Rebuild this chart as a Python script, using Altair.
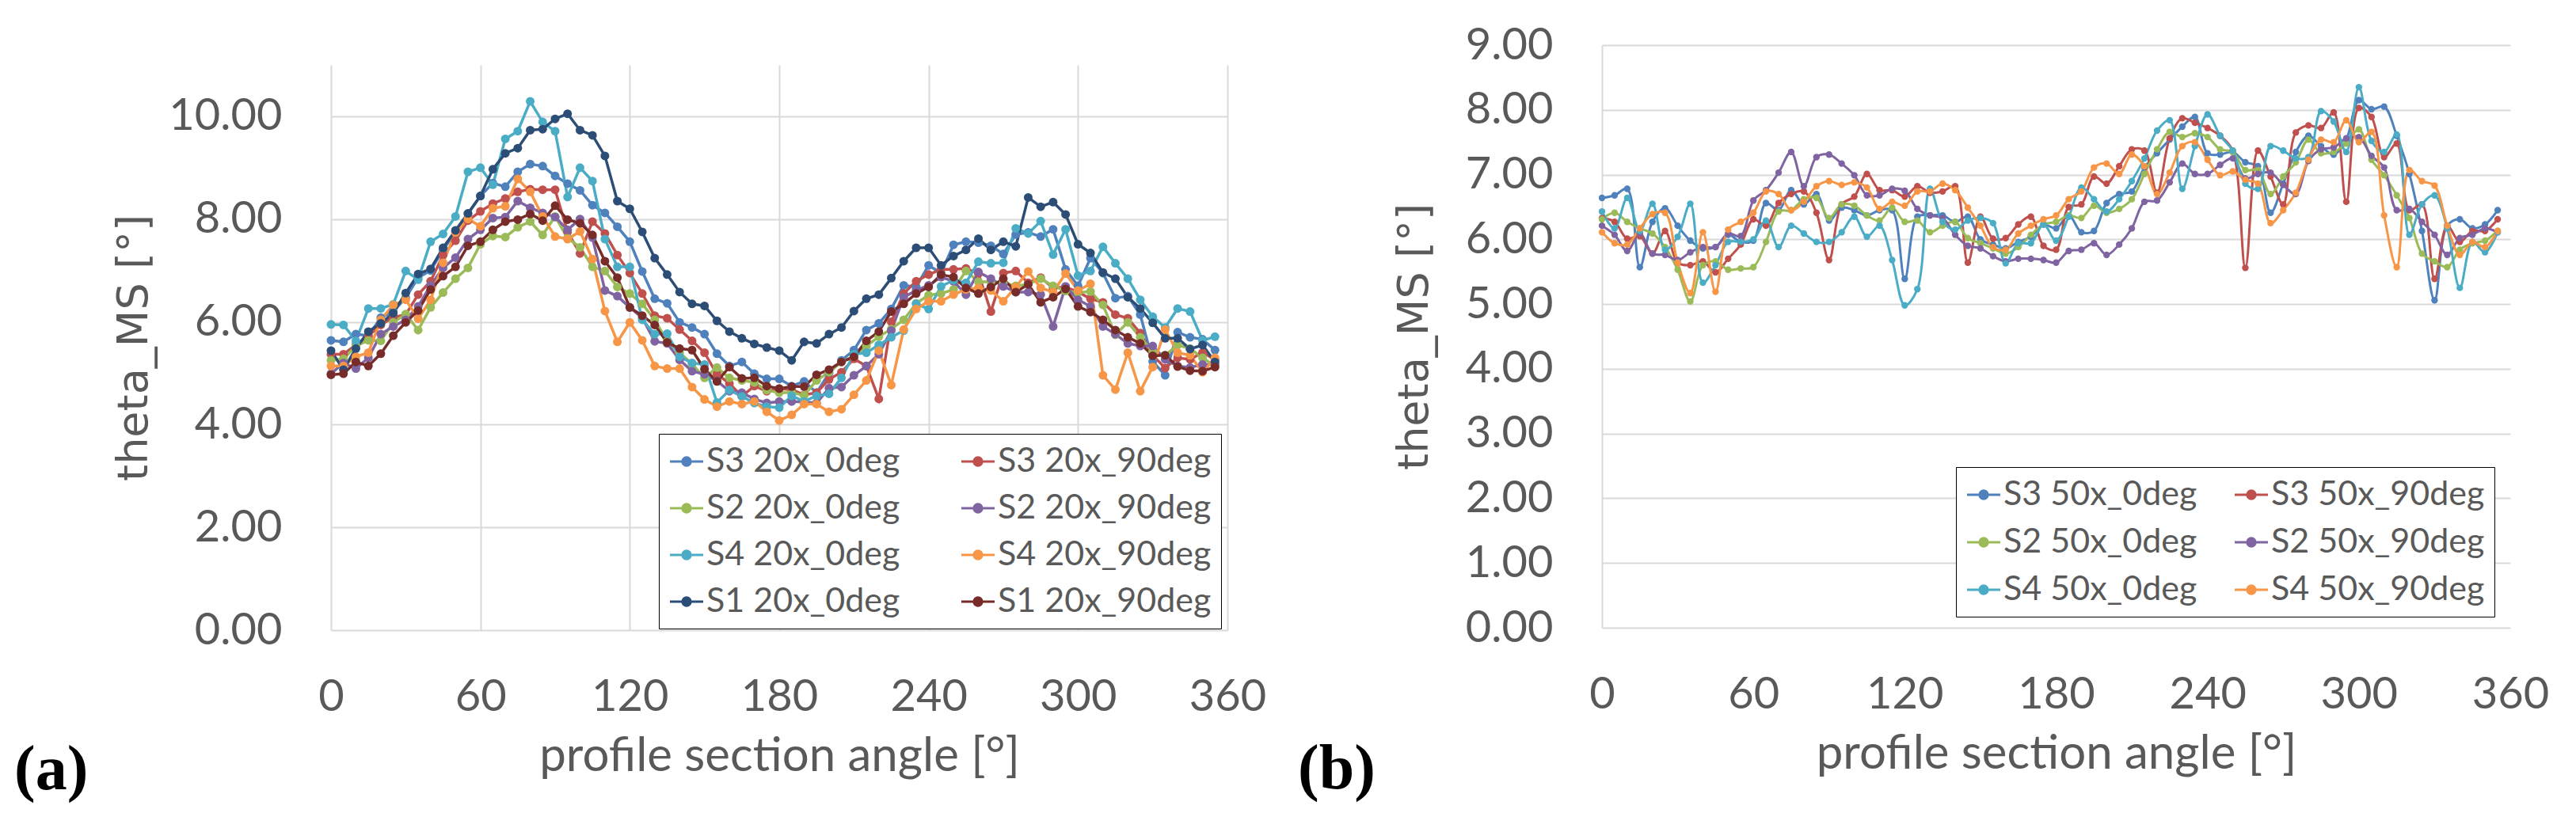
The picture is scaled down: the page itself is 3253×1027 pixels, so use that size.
import altair as alt
import pandas as pd

angles = list(range(0, 360, 5))

# ---------------- panel (a) : 20x ----------------
a_names = ["S3 20x_0deg", "S3 20x_90deg", "S2 20x_0deg", "S2 20x_90deg",
           "S4 20x_0deg", "S4 20x_90deg", "S1 20x_0deg", "S1 20x_90deg"]
a_colors = ["#4F81BD", "#C0504D", "#9BBB59", "#8064A2",
            "#4BACC6", "#F79646", "#2C4D75", "#772C2A"]

a_s3_0 = [5.64, 5.61, 5.76, 5.73, 6.08, 6.20, 6.47, 6.86, 7.00, 7.40, 7.75, 8.10,
          8.45, 8.70, 8.63, 8.92, 9.07, 9.03, 8.84, 8.69, 8.56, 8.27, 8.12, 7.85,
          7.56, 6.98, 6.45, 6.36, 5.99, 5.89, 5.76, 5.38, 5.14, 5.22, 4.99, 4.89,
          4.89, 4.75, 4.84, 4.62, 5.00, 5.25, 5.45, 5.84, 5.97, 6.25, 6.71, 6.68,
          7.10, 6.95, 7.50, 7.56, 7.54, 7.48, 7.32, 7.70, 7.74, 7.66, 7.80, 7.02,
          6.70, 7.24, 6.95, 6.46, 6.50, 6.14, 5.23, 4.96, 5.80, 5.70, 5.66, 5.45]
a_s3_90 = [5.37, 5.37, 5.55, 5.73, 5.94, 6.09, 6.14, 6.53, 6.79, 7.30, 7.58, 7.97,
           8.15, 8.30, 8.40, 8.53, 8.58, 8.57, 8.57, 7.75, 7.33, 7.95, 7.72, 7.30,
           6.95, 6.55, 6.12, 6.07, 5.85, 5.63, 5.40, 4.98, 4.80, 4.55, 4.75, 4.65,
           4.70, 4.68, 4.58, 4.62, 4.88, 5.02, 5.28, 5.14, 4.50, 6.00, 6.55, 6.79,
           6.92, 7.02, 7.02, 7.04, 6.94, 6.20, 6.95, 6.99, 6.76, 6.86, 6.66, 6.68,
           6.58, 6.45, 6.38, 6.14, 6.07, 5.78, 5.35, 5.10, 5.30, 5.27, 5.40, 5.27]
a_s2_0 = [5.25, 5.28, 5.53, 5.64, 5.63, 5.99, 6.15, 5.84, 6.28, 6.57, 6.84, 7.05,
          7.51, 7.67, 7.65, 7.84, 7.95, 7.69, 8.05, 7.63, 7.45, 7.07, 6.99, 6.68,
          6.55, 6.35, 6.04, 5.62, 5.40, 5.18, 4.91, 5.11, 4.91, 4.86, 4.82, 4.67,
          4.62, 4.62, 4.57, 4.86, 5.02, 5.22, 5.32, 5.53, 5.71, 5.86, 6.04, 6.36,
          6.52, 6.55, 6.63, 6.99, 6.78, 6.78, 6.76, 6.70, 6.73, 6.84, 6.70, 6.60,
          6.57, 6.59, 6.33, 5.75, 5.99, 5.70, 5.42, 5.35, 5.55, 5.48, 5.30, 5.14]
a_s2_90 = [4.99, 5.20, 5.09, 5.30, 5.76, 5.91, 6.04, 6.30, 6.71, 7.05, 7.25, 7.61,
           7.79, 8.02, 8.04, 8.35, 8.22, 8.12, 8.04, 7.79, 8.00, 7.64, 6.61, 6.50,
           6.28, 6.08, 5.62, 5.58, 5.26, 5.04, 4.98, 4.85, 4.65, 4.62, 4.50, 4.42,
           4.45, 4.45, 4.44, 4.42, 4.71, 4.73, 4.96, 5.14, 5.37, 5.83, 6.48, 6.61,
           6.71, 6.87, 6.79, 6.53, 6.97, 6.84, 6.69, 6.58, 6.58, 6.53, 5.91, 6.69,
           6.43, 6.30, 5.91, 5.76, 5.58, 5.53, 5.53, 5.27, 5.14, 5.11, 5.17, 5.17]
a_s4_0 = [5.95, 5.94, 5.63, 6.26, 6.26, 6.34, 6.99, 6.82, 7.56, 7.71, 8.05, 8.92,
          9.00, 8.67, 9.56, 9.71, 10.29, 9.89, 9.71, 8.43, 9.00, 8.74, 7.61, 7.07,
          7.07, 6.04, 5.76, 5.77, 5.32, 5.20, 5.17, 4.43, 4.67, 4.55, 4.42, 4.35,
          4.33, 4.56, 4.45, 4.56, 4.60, 4.91, 5.37, 5.40, 5.55, 5.70, 5.83, 6.35,
          6.25, 6.69, 6.81, 6.76, 7.17, 7.14, 7.15, 7.82, 7.72, 7.96, 7.31, 7.80,
          6.90, 6.99, 7.46, 7.14, 6.84, 6.43, 6.10, 5.89, 6.26, 6.20, 5.64, 5.71]
a_s4_90 = [5.14, 5.14, 5.32, 5.40, 6.04, 6.33, 6.43, 6.06, 6.43, 7.15, 7.74, 8.00,
           7.86, 8.21, 8.25, 8.78, 8.53, 8.05, 7.66, 7.61, 7.76, 7.22, 6.21, 5.61,
           5.99, 5.64, 5.14, 5.09, 5.09, 4.73, 4.49, 4.35, 4.45, 4.40, 4.45, 4.25,
           4.08, 4.19, 4.40, 4.40, 4.25, 4.30, 4.58, 4.86, 5.44, 4.77, 5.85, 6.25,
           6.40, 6.40, 6.53, 6.63, 6.66, 6.61, 6.40, 6.68, 6.98, 6.66, 6.58, 6.94,
           6.61, 6.74, 4.96, 4.68, 5.40, 4.65, 5.12, 5.85, 5.40, 5.35, 5.02, 5.30]
a_s1_0 = [5.44, 5.07, 5.48, 5.81, 5.97, 6.17, 6.56, 6.93, 7.03, 7.44, 7.78, 8.11,
          8.45, 8.97, 9.28, 9.38, 9.73, 9.75, 9.95, 10.05, 9.73, 9.63, 9.23, 8.35,
          8.20, 7.75, 7.24, 6.92, 6.58, 6.35, 6.31, 6.02, 5.81, 5.68, 5.57, 5.50,
          5.44, 5.25, 5.61, 5.58, 5.76, 5.89, 6.21, 6.45, 6.53, 6.85, 7.18, 7.44,
          7.44, 7.10, 7.28, 7.40, 7.62, 7.40, 7.56, 7.47, 8.42, 8.24, 8.33, 8.09,
          7.51, 7.34, 6.96, 6.84, 6.48, 6.26, 5.98, 5.68, 5.68, 5.47, 5.55, 5.22]
a_s1_90 = [4.97, 4.99, 5.22, 5.14, 5.38, 5.73, 5.99, 6.22, 6.63, 6.89, 7.07, 7.48,
           7.56, 7.79, 7.95, 7.99, 8.10, 7.97, 8.26, 7.99, 7.92, 7.69, 7.18, 6.86,
           6.28, 6.12, 5.94, 5.60, 5.48, 5.45, 5.08, 4.84, 5.12, 4.90, 4.91, 4.75,
           4.70, 4.74, 4.74, 4.97, 5.07, 5.22, 5.32, 5.63, 5.81, 6.20, 6.35, 6.55,
           6.68, 6.92, 6.87, 6.66, 6.55, 6.68, 6.84, 6.58, 6.73, 6.38, 6.48, 6.64,
           6.30, 6.19, 6.04, 5.84, 5.70, 5.58, 5.34, 5.35, 5.13, 5.05, 5.04, 5.12]

# ---------------- panel (b) : 50x ----------------
b_names = ["S3 50x_0deg", "S3 50x_90deg", "S2 50x_0deg", "S2 50x_90deg",
           "S4 50x_0deg", "S4 50x_90deg"]
b_colors = ["#4F81BD", "#C0504D", "#9BBB59", "#8064A2", "#4BACC6", "#F79646"]

b_s3_0 = [6.64, 6.68, 6.78, 5.57, 6.27, 6.48, 6.21, 5.98, 5.86, 5.88, 6.07, 5.96,
          5.98, 6.56, 6.45, 6.76, 6.54, 6.70, 6.29, 6.49, 6.45, 6.37, 6.45, 6.45,
          5.39, 6.35, 6.37, 6.37, 6.27, 6.35, 6.00, 5.92, 5.86, 5.96, 6.04, 6.23,
          6.17, 6.37, 6.11, 6.13, 6.56, 6.70, 6.74, 7.11, 7.33, 7.54, 7.74, 7.89,
          7.33, 7.31, 7.35, 7.19, 7.13, 6.41, 6.86, 7.35, 7.60, 7.44, 7.31, 7.54,
          8.15, 8.01, 8.05, 7.60, 7.01, 6.13, 5.06, 6.21, 6.31, 6.17, 6.23, 6.45]
b_s3_90 = [6.33, 6.27, 6.01, 6.05, 5.78, 6.13, 5.64, 5.60, 5.66, 5.49, 5.70, 5.92,
           6.31, 6.21, 6.56, 6.70, 6.74, 6.41, 5.68, 6.54, 6.66, 7.01, 6.76, 6.76,
           6.66, 6.82, 6.72, 6.74, 6.82, 5.64, 6.35, 6.01, 6.02, 6.23, 6.35, 5.90,
           5.84, 6.50, 6.54, 6.97, 6.86, 7.13, 7.39, 7.37, 6.72, 7.56, 7.87, 7.80,
           7.72, 7.60, 7.37, 5.56, 7.37, 6.97, 6.54, 7.65, 7.76, 7.72, 7.96, 6.58,
           8.03, 7.89, 7.27, 7.48, 6.45, 6.54, 5.39, 6.21, 5.96, 6.13, 6.13, 6.31]
b_s2_0 = [6.31, 6.41, 6.27, 6.17, 6.09, 5.88, 5.53, 5.04, 5.60, 5.66, 5.53, 5.55,
          5.57, 5.96, 6.43, 6.45, 6.62, 6.64, 6.33, 6.54, 6.52, 6.37, 6.29, 6.49,
          6.27, 6.29, 6.11, 6.21, 6.27, 6.02, 5.94, 5.86, 5.78, 5.88, 6.07, 6.23,
          6.27, 6.37, 6.33, 6.52, 6.41, 6.47, 6.62, 7.01, 7.39, 7.66, 7.58, 7.64,
          7.58, 7.39, 7.35, 7.07, 7.07, 6.70, 6.97, 7.19, 7.54, 7.33, 7.35, 7.48,
          7.70, 7.23, 6.99, 6.68, 6.33, 5.78, 5.66, 5.57, 5.84, 5.94, 5.98, 6.13]
b_s2_90 = [6.21, 6.07, 5.82, 6.09, 5.78, 5.76, 5.68, 5.80, 5.88, 5.88, 6.09, 6.05,
           6.60, 6.76, 7.03, 7.35, 6.82, 7.27, 7.31, 7.17, 6.99, 6.68, 6.68, 6.78,
           6.75, 6.47, 6.37, 6.33, 6.07, 5.90, 5.86, 5.74, 5.66, 5.70, 5.70, 5.68,
           5.64, 5.82, 5.84, 5.94, 5.76, 5.92, 6.17, 6.58, 6.60, 6.88, 7.17, 7.01,
           7.01, 7.15, 7.25, 6.94, 7.01, 7.03, 6.84, 6.70, 7.21, 7.39, 7.42, 7.56,
           7.58, 7.29, 7.11, 6.45, 6.47, 6.27, 6.07, 5.76, 6.02, 6.07, 6.17, 6.11]
b_s4_0 = [6.43, 6.17, 6.64, 6.13, 6.55, 5.84, 6.04, 6.55, 5.33, 5.60, 5.96, 5.96,
          6.00, 6.29, 5.88, 6.21, 6.09, 5.96, 5.96, 6.11, 6.35, 6.04, 6.21, 5.68,
          4.98, 5.23, 6.78, 6.27, 6.15, 6.29, 6.33, 6.25, 5.63, 5.94, 5.94, 6.23,
          5.98, 6.35, 6.80, 6.62, 6.43, 6.62, 6.90, 7.25, 7.68, 7.84, 6.78, 7.44,
          7.93, 7.60, 7.37, 6.86, 6.78, 7.44, 7.37, 7.25, 7.27, 7.98, 7.82, 7.35,
          8.35, 7.52, 7.35, 7.62, 6.07, 6.54, 6.68, 6.17, 5.25, 5.96, 5.80, 6.11]
b_s4_90 = [6.11, 5.94, 5.92, 6.17, 6.39, 6.41, 5.64, 5.17, 6.11, 5.19, 6.15, 6.27,
           6.41, 6.74, 6.70, 6.45, 6.58, 6.82, 6.90, 6.84, 6.88, 6.80, 6.47, 6.58,
           6.52, 6.74, 6.74, 6.86, 6.76, 6.49, 6.21, 5.88, 5.84, 6.09, 6.21, 6.31,
           6.37, 6.62, 6.74, 7.11, 7.17, 7.01, 7.31, 7.13, 6.70, 7.03, 7.44, 7.50,
           7.23, 6.99, 7.05, 6.92, 6.86, 6.25, 6.45, 6.72, 7.23, 7.54, 7.50, 7.84,
           7.50, 7.66, 6.37, 5.57, 7.07, 6.90, 6.83, 6.21, 5.76, 5.96, 5.88, 6.13]

a_ticks_x = [0, 60, 120, 180, 240, 300, 360]
a_ticks_y = [0, 2, 4, 6, 8, 10]
b_ticks_y = [0, 1, 2, 3, 4, 5, 6, 7, 8, 9]

GRAY = "#595959"
GRID = "#D9D9D9"
SYM = "M-1,0L1,0M-0.24,0A0.24,0.24,0,1,0,0.24,0A0.24,0.24,0,1,0,-0.24,0Z"


def long_df(names, series):
    rows = []
    for i, (n, vals) in enumerate(zip(names, series)):
        assert len(vals) == len(angles), (n, len(vals))
        for ang, v in zip(angles, vals):
            rows.append({"series": n, "k": i, "angle": ang, "theta": v})
    return pd.DataFrame(rows)


def legend_order(names, colors, ncol=2):
    # legend fills column by column; reorder so that it reads row by row
    idx = [r * ncol + c for c in range(ncol) for r in range(len(names) // ncol)]
    return [names[i] for i in idx], [colors[i] for i in idx]


def panel(df, names, colors, ymax, yticks, xgrid, width, height, lx, ly, colpad, rowpad,
          label, label_dx, label_dy, ytitle_pad, interp, lw, msize):
    dom, rng = legend_order(names, colors)
    x = alt.X("angle:Q",
              scale=alt.Scale(domain=[0, 360], nice=False, zero=False),
              axis=alt.Axis(values=a_ticks_x, grid=xgrid, gridColor=GRID, gridWidth=2,
                            domain=False, ticks=False, labelFlush=False,
                            labelFont="Lato", labelFontSize=56, labelColor=GRAY,
                            labelPadding=57,
                            title="profile section angle [°]", titleFont="Lato",
                            titleFontSize=60, titleFontWeight="normal",
                            titleColor=GRAY, titlePadding=18))
    y = alt.Y("theta:Q",
              scale=alt.Scale(domain=[0, ymax], nice=False, zero=True),
              axis=alt.Axis(values=yticks, format=".2f", grid=True, gridColor=GRID,
                            gridWidth=2, domain=not xgrid, domainColor=GRID,
                            domainWidth=2, ticks=False,
                            labelFont="Lato", labelFontSize=56, labelColor=GRAY,
                            labelPadding=62,
                            title="theta_MS [°]", titleFont="DejaVu Sans",
                            titleFontSize=54, titleFontWeight="normal",
                            titleColor=GRAY, titlePadding=ytitle_pad))
    color = alt.Color("series:N",
                      scale=alt.Scale(domain=dom, range=rng),
                      legend=alt.Legend(title=None, orient="none", legendX=lx, legendY=ly,
                                        columns=2, symbolType=SYM, symbolSize=1764,
                                        symbolStrokeWidth=3.2, labelFont="Lato",
                                        labelFontSize=43, labelColor=GRAY, labelLimit=0,
                                        labelOffset=2, padding=12, rowPadding=rowpad,
                                        columnPadding=colpad, strokeColor="black",
                                        fillColor="white"))
    base = alt.Chart(df)
    line = base.mark_line(interpolate=interp, strokeWidth=lw).encode(
        x=x, y=y, color=color, order="angle:Q")
    pts = base.mark_point(filled=True, size=msize, opacity=1).encode(
        x=x, y=y, color=color)
    return alt.layer(line, pts).properties(
        width=width, height=height,
        title=alt.TitleParams(label, orient="bottom", anchor="start", frame="group",
                              font="Liberation Serif", fontSize=80, fontWeight="bold",
                              color="black", dx=label_dx, dy=label_dy))


df_a = long_df(a_names, [a_s3_0, a_s3_90, a_s2_0, a_s2_90, a_s4_0, a_s4_90, a_s1_0, a_s1_90])
df_b = long_df(b_names, [b_s3_0, b_s3_90, b_s2_0, b_s2_90, b_s4_0, b_s4_90])

chart_a = panel(df_a, a_names, a_colors, 11, a_ticks_y, True, 1132, 714,
                414, 491, 70, 14, "(a)", -400, -55, 22, "linear", 3.5, 121)
chart_b = panel(df_b, b_names, b_colors, 9, b_ticks_y, False, 1147, 736,
                447, 533, 40, 15, "(b)", -384, -53, 37, "catmull-rom", 3, 70)

spacer = alt.Chart(pd.DataFrame({"v": [0]})).mark_point(opacity=0, size=1).encode(
    x=alt.value(0), y=alt.value(0)).properties(width=50, height=5)

chart = alt.hconcat(
    alt.vconcat(spacer, chart_a, spacing=20),
    chart_b,
    spacing=40,
).resolve_scale(color="independent").resolve_legend(color="independent").configure_view(
    stroke=None).properties(
    padding={"left": 10, "top": 21, "right": 5, "bottom": 5},
    background="white")

chart.save("out.html", embed_options={"renderer": "svg", "actions": False})
